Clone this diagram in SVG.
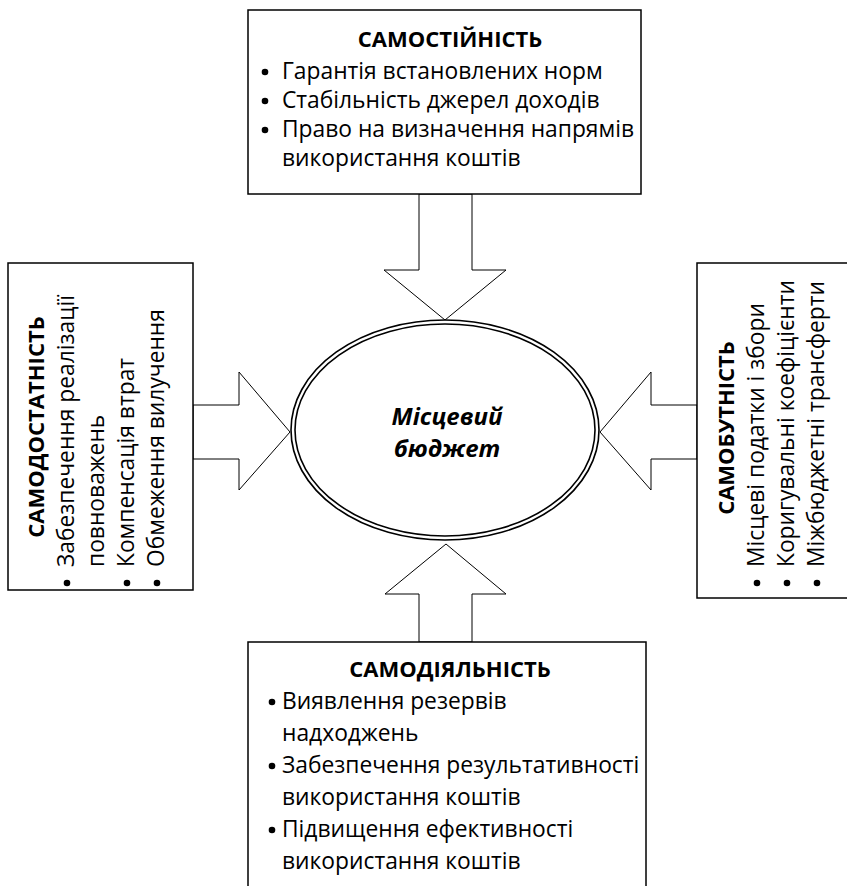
<svg xmlns="http://www.w3.org/2000/svg" width="847" height="886" viewBox="0 0 847 886">
<style>
.box{fill:#fff;stroke:#000;stroke-width:1.5}
.arr{fill:#fff;stroke:#000;stroke-width:1}
.ell{fill:none;stroke:#000;stroke-width:1.6}
.b{fill:#000}
text{font-family:"Open Sans","Noto Sans",sans-serif;font-size:22.8px;fill:#000}
.t{font-weight:bold;font-size:22px;text-anchor:middle}
.e{font-weight:bold;font-style:italic;font-size:24px;text-anchor:middle}
</style>
<rect width="847" height="886" fill="#fff"/>
<g id="connectors">
<polygon class="arr" points="419,194 472,194 472,270 506,270 445,320 384,270 419,270"/>
<polygon class="arr" points="419,642 472,642 472,594 506,594 446,544 385,594 419,594"/>
<polygon class="arr" points="193,405 239,405 239,372 290,432 239,490 239,459 193,459"/>
<polygon class="arr" points="697,405 651,405 651,372 600,432 651,490 651,459 697,459"/>
</g>
<g id="center">
<ellipse class="ell" cx="445" cy="430" rx="154" ry="110"/>
<ellipse class="ell" cx="445" cy="430" rx="150" ry="106"/>
<text class="e" x="447" y="425">Місцевий</text>
<text class="e" x="447" y="457">бюджет</text>
</g>
<g id="samostiinist">
<rect class="box" x="248" y="10" width="393" height="184"/>
<text class="t" x="450" y="47">САМОСТІЙНІСТЬ</text>
<circle class="b" cx="265" cy="72" r="3.3"/><text x="282" y="79">Гарантія встановлених норм</text>
<circle class="b" cx="265" cy="101" r="3.3"/><text x="282" y="108">Стабільність джерел доходів</text>
<circle class="b" cx="265" cy="130" r="3.3"/><text x="282" y="137">Право на визначення напрямів</text>
<text x="282" y="166">використання коштів</text>
</g>
<g id="samodostatnist">
<rect class="box" x="8" y="263" width="185" height="327"/>
<text class="t" transform="translate(44,427) rotate(-90)">САМОДОСТАТНІСТЬ</text>
<circle class="b" cx="67" cy="583" r="3.3"/><text transform="translate(74,567) rotate(-90)">Забезпечення реалізації</text>
<text transform="translate(104,567) rotate(-90)">повноважень</text>
<circle class="b" cx="127" cy="583" r="3.3"/><text transform="translate(134,567) rotate(-90)">Компенсація втрат</text>
<circle class="b" cx="157" cy="583" r="3.3"/><text transform="translate(164,567) rotate(-90)">Обмеження вилучення</text>
</g>
<g id="samobutnist">
<rect class="box" x="697" y="263" width="160" height="335"/>
<text class="t" transform="translate(734,428) rotate(-90)">САМОБУТНІСТЬ</text>
<circle class="b" cx="757" cy="583" r="3.3"/><text transform="translate(764,567) rotate(-90)">Місцеві податки і збори</text>
<circle class="b" cx="787" cy="583" r="3.3"/><text transform="translate(794,567) rotate(-90)">Коригувальні коефіцієнти</text>
<circle class="b" cx="817" cy="583" r="3.3"/><text transform="translate(824,567) rotate(-90)">Міжбюджетні трансферти</text>
</g>
<g id="samodiialnist">
<rect class="box" x="248" y="642" width="398" height="260"/>
<text class="t" x="450" y="677">САМОДІЯЛЬНІСТЬ</text>
<circle class="b" cx="272" cy="702" r="3.3"/><text x="282" y="709">Виявлення резервів</text>
<text x="282" y="741">надходжень</text>
<circle class="b" cx="272" cy="766" r="3.3"/><text x="282" y="773">Забезпечення результативності</text>
<text x="282" y="805">використання коштів</text>
<circle class="b" cx="272" cy="830" r="3.3"/><text x="282" y="837">Підвищення ефективності</text>
<text x="282" y="869">використання коштів</text>
</g>
</svg>
